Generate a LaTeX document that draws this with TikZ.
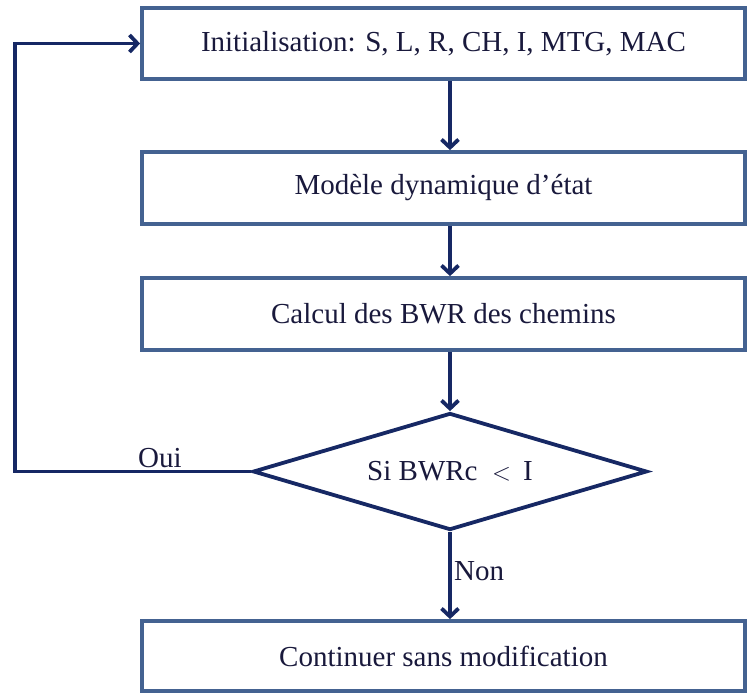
\documentclass[tikz,border=0pt]{standalone}
\usepackage{fontspec}
\setmainfont{Liberation Serif}
\usetikzlibrary{arrows.meta,shapes.geometric}
\definecolor{boxc}{RGB}{68,98,145}
\definecolor{arrc}{RGB}{22,40,100}
\definecolor{txtc}{RGB}{25,25,60}
\begin{document}
\begin{tikzpicture}[x=1pt,y=-1pt,
  stepbox/.style={draw=boxc,line width=3.8pt,fill=white,minimum width=603pt,minimum height=71pt,inner sep=0pt,text=txtc,font=\fontsize{29}{34}\selectfont},
  decision/.style={draw=arrc,line width=3.8pt,diamond,aspect=3.37,minimum width=394pt,minimum height=117pt,inner sep=0pt,text=txtc,font=\fontsize{29}{34}\selectfont},
  conn/.style={draw=arrc,line width=3.8pt,-{Straight Barb[length=8pt,width=17pt,line width=3.8pt]}},
  lbl/.style={text=txtc,font=\fontsize{29}{34}\selectfont,inner sep=0pt}]
\useasboundingbox (0,0) rectangle (747,693);
\node[stepbox] (init) at (443.5,43.5) {Initialisation: S, L, R, CH, I, MTG, MAC};
\node[stepbox,minimum height=72pt] (model) at (443.5,188) {Modèle dynamique d’état};
\node[stepbox,minimum height=72pt] (calc) at (443.5,314) {Calcul des BWR des chemins};
\node[decision] (dec) at (450,471.5) {Si BWRc \ $<$ \,I};
\node[stepbox,minimum height=70pt] (cont) at (443.5,656) {Continuer sans modification};
\coordinate (lb) at (15,471.5);
\coordinate (lt) at (15,43.5);
\draw[conn] (init.south -| 450,0) -- (model.north -| 450,0);
\draw[conn] (model.south -| 450,0) -- (calc.north -| 450,0);
\draw[conn] (calc.south -| 450,0) -- (dec.north);
\draw[conn] (dec.south) -- (cont.north -| 450,0);
\draw[conn] (dec.west) -- (lb) -- (lt) -- (init.west);
\node[lbl,anchor=base west] (oui) at (138,467) {Oui};
\node[lbl,anchor=base west] (non) at (454,580) {Non};
\end{tikzpicture}
\end{document}
